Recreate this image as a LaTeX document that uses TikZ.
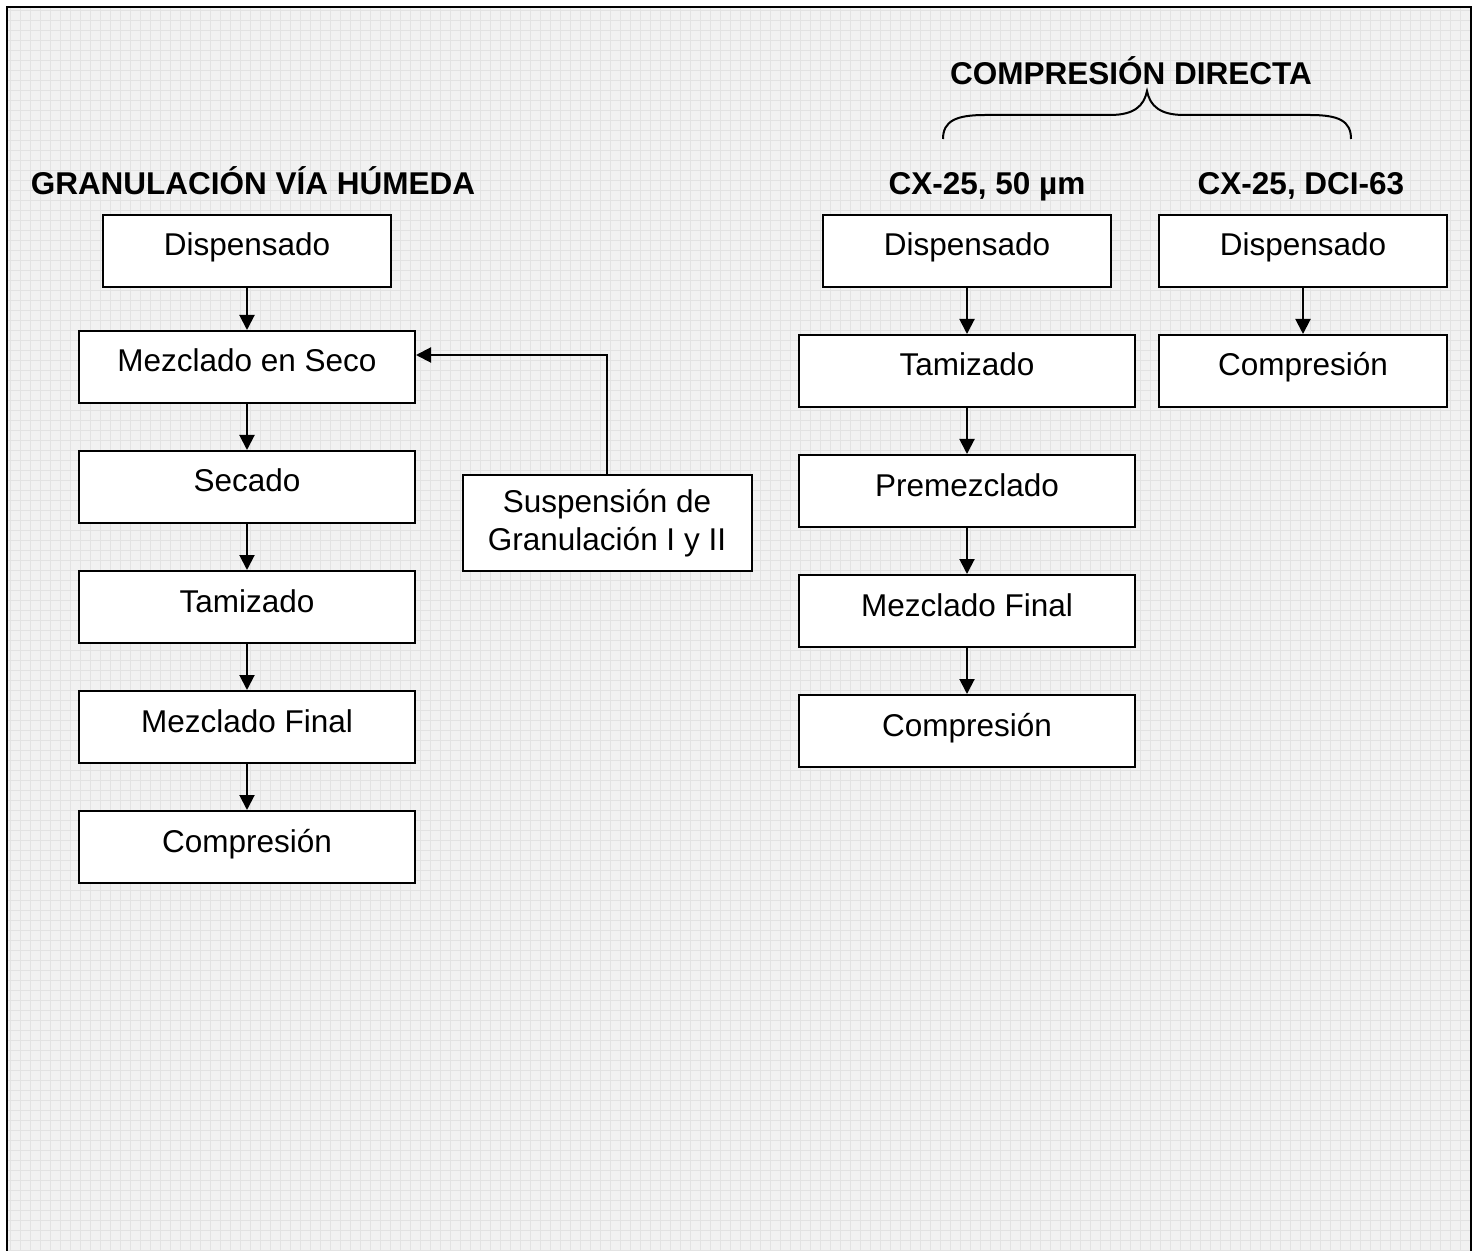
\documentclass[tikz,border=0pt]{standalone}
\usepackage{fontspec}
\setmainfont{Liberation Sans}
\usetikzlibrary{arrows.meta}
\definecolor{bgfill}{RGB}{241,241,241}
\definecolor{gridc}{RGB}{226,226,226}
\tikzset{
 procbox/.style={draw=black, line width=1pt, fill=white, inner xsep=0pt, inner ysep=0pt,
   text height=20.5pt, text depth=15.5pt, font=\fontsize{15.75}{19}\selectfont},
 widebox/.style={minimum width=168pt},
 narrowbox/.style={minimum width=144pt},
 suspbox/.style={draw=black, line width=1pt, fill=white, inner sep=0pt, align=center,
   minimum width=144.5pt, minimum height=48pt, font=\fontsize{15.75}{19}\selectfont},
 flow/.style={line width=1pt, -{Triangle[length=7.5pt,width=7.5pt]}},
 titletext/.style={font=\fontsize{15.75}{19}\selectfont\bfseries, anchor=base, inner sep=0pt},
}
\begin{document}
\begin{tikzpicture}[x=0.5pt,y=-0.5pt]
\useasboundingbox (0,0) rectangle (1478,1251);
\fill[bgfill] (7,7) rectangle (1471,1251);
\begin{scope}
\clip (7,7) rectangle (1471,1251);
\draw[gridc, line width=0.4pt] (0,0) grid[step=5pt] (1478,1251);
\end{scope}
\draw[line width=1pt] (7,1251) -- (7,7) -- (1471,7) -- (1471,1251);

% titles
\node[titletext] (tg) at (253,195) {GRANULACIÓN VÍA HÚMEDA};
\node[titletext] (t1) at (987,195) {CX-25, 50 µm};
\node[titletext] (t2) at (1301,195) {CX-25, DCI-63};
\node[titletext] (tc) at (1131,85) {COMPRESIÓN DIRECTA};

% brace
\draw[line width=1pt] (943,139) .. controls (943,121) and (956,115) .. (985,115) -- (1110,115)
  .. controls (1134,115) and (1144,106) .. (1147,91)
  .. controls (1150,106) and (1160,115) .. (1184,115) -- (1310,115)
  .. controls (1339,115) and (1351,121) .. (1351,139);

% left column
\node[procbox,narrowbox] (g1) at (247,251) {Dispensado};
\node[procbox,widebox] (g2) at (247,367) {Mezclado en Seco};
\node[procbox,widebox] (g3) at (247,487) {Secado};
\node[procbox,widebox] (g4) at (247,607) {Tamizado};
\node[procbox,widebox] (g5) at (247,727) {Mezclado Final};
\node[procbox,widebox] (g6) at (247,847) {Compresión};
\node[suspbox] (s) at (607,523) {Suspensión de\\Granulación I y II};

% middle column
\node[procbox,narrowbox] (m1) at (967,251) {Dispensado};
\node[procbox,widebox] (m2) at (967,371) {Tamizado};
\node[procbox,widebox] (m3) at (967,491) {Premezclado};
\node[procbox,widebox] (m4) at (967,611) {Mezclado Final};
\node[procbox,widebox] (m5) at (967,731) {Compresión};

% right column
\node[procbox,narrowbox] (r1) at (1303,251) {Dispensado};
\node[procbox,narrowbox] (r2) at (1303,371) {Compresión};

% connectors
\draw[flow] (g1) -- (g2);
\draw[flow] (g2) -- (g3);
\draw[flow] (g3) -- (g4);
\draw[flow] (g4) -- (g5);
\draw[flow] (g5) -- (g6);
\draw[flow] (s.north) |- ([yshift=6pt]g2.east);
\draw[flow] (m1) -- (m2);
\draw[flow] (m2) -- (m3);
\draw[flow] (m3) -- (m4);
\draw[flow] (m4) -- (m5);
\draw[flow] (r1) -- (r2);
\end{tikzpicture}
\end{document}
